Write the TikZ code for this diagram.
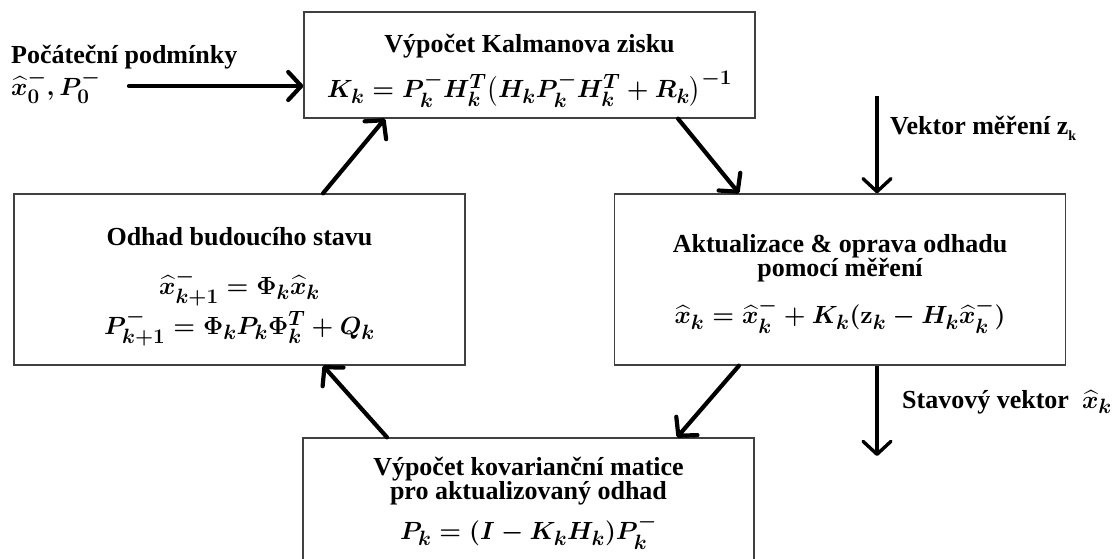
\documentclass[tikz,border=0pt]{standalone}
\usepackage{amsmath}
\usepackage{fontspec}
\setmainfont{Liberation Serif}
\usetikzlibrary{arrows.meta,calc}
% large scripts for the formulas
\DeclareMathSizes{28}{28}{20}{15}

\begin{document}
\begin{tikzpicture}[x=1pt,y=-1pt,
  box/.style={draw=black!75, line width=1.3pt, rectangle, inner sep=0pt,
              minimum width=451pt},
  title/.style={font=\bfseries\fontsize{26}{24}\selectfont, inner sep=0pt, align=center},
  formula/.style={font=\fontsize{28}{32}\selectfont\boldmath, inner sep=0pt},
  flow/.style={line width=4.2pt, line cap=round,
               -{Straight Barb[length=13pt,width=28pt,line width=4.2pt,round]}},
  io/.style={line width=3.4pt,
             -{Straight Barb[length=13pt,width=28pt,line width=3.4pt,round]}}
]
\useasboundingbox (0,0) rectangle (1120,559);

% the four stages of the filter cycle
\node[box, minimum height=106pt] (K) at (529.5,65)  {};
\node[box, minimum height=171pt] (O) at (239.5,279.5) {};
\node[box, minimum height=171pt] (A) at (840,279.5)  {};
\node[box, minimum height=170pt] (B) at (528.5,523) {};

% gain computation
\node[title]   (Kt) at (529.5,46) {Výpočet Kalmanova zisku};
\node[formula] (Kf) at (529.5,89)
  {$K_k = P_k^{-} H_k^{T}\bigl(H_k P_k^{-} H_k^{T} + R_k\bigr)^{-1}$};

% prediction
\node[title]   (Ot)  at (239.5,237) {Odhad budoucího stavu};
\node[formula] (Of1) at (239.5,288) {$\widehat{x}_{k+1}^{-} = \Phi_k\widehat{x}_k$};
\node[formula] (Of2) at (239.5,328) {$P_{k+1}^{-} = \Phi_k P_k \Phi_k^{T} + Q_k$};

% measurement update
\node[title]   (At) at (840,258) {Aktualizace \& oprava odhadu\\pomocí měření};
\node[formula] (Af) at (840,316)
  {$\widehat{x}_k = \widehat{x}_k^{-} + K_k(\mathbf{z}_k - H_k\widehat{x}_k^{-})$};

% covariance update
\node[title]   (Bt) at (528.5,481) {Výpočet kovarianční matice\\pro aktualizovaný odhad};
\node[formula] (Bf) at (528.5,532) {$P_k = (I - K_k H_k)P_k^{-}$};

% initial conditions
\node[title, anchor=west]   (init)  at (11,57) {Počáteční podmínky};
\node[formula, anchor=west] (initf) at (11,87) {$\widehat{x}_0^{-}, P_0^{-}$};
\coordinate (in0) at (129,86);

% measurement input and state output
\node[title, anchor=west] (meas) at (890,128)
  {Vektor měření z\raisebox{-6pt}{\fontsize{14}{14}\selectfont k}};
\coordinate (mtop) at (877,96);
\node[title, anchor=west] (outl) at (902,402)
  {Stavový vektor\enspace{\fontsize{28}{28}\selectfont\boldmath$\widehat{x}_k$}};
\coordinate (mout) at (877,456);

% connectors
\draw[flow] (in0) -- ([yshift=-21pt]K.west);
\draw[flow] ([xshift=83.5pt]O.north) -- ([xshift=-144.5pt]K.south);
\draw[flow] ([xshift=148.5pt]K.south) -- ([xshift=-101pt]A.north);
\draw[io]   (mtop) -- ([xshift=37pt]A.north);
\draw[flow] ([xshift=-101pt]A.south) -- ([xshift=148.5pt]B.north);
\draw[flow] ([xshift=-141.5pt]B.north) -- ([xshift=83.5pt]O.south);
\draw[io]   ([xshift=37pt]A.south) -- (mout);
\end{tikzpicture}
\end{document}
